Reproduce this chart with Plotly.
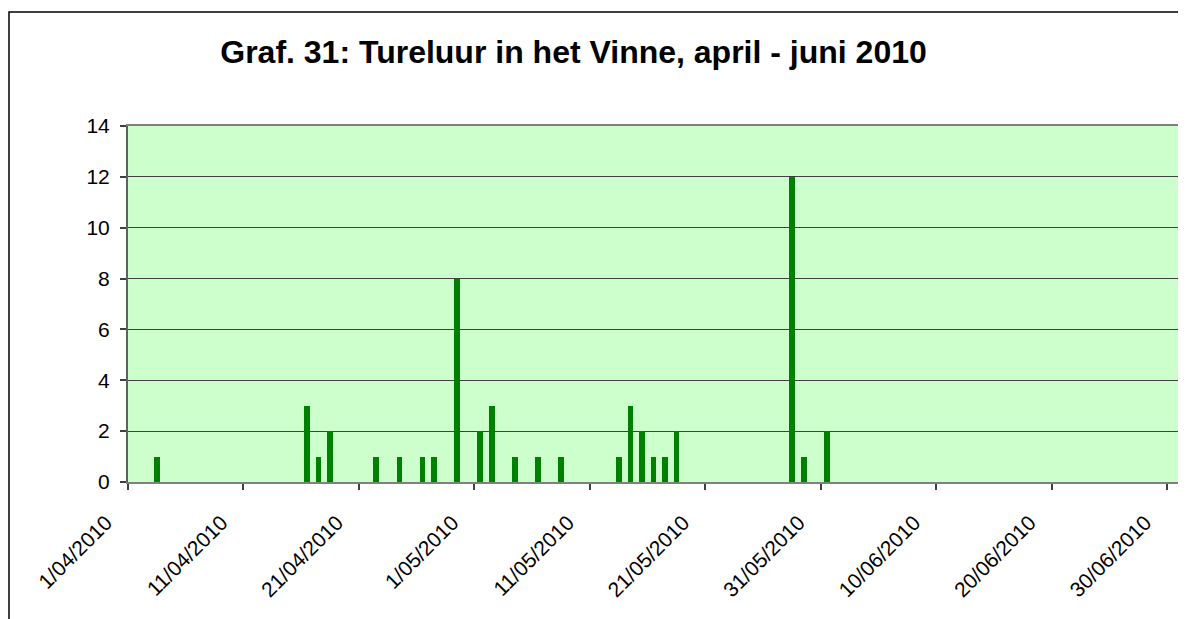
import plotly.graph_objects as go

dates = ["2010-04-03", "2010-04-16", "2010-04-17", "2010-04-18", "2010-04-22",
         "2010-04-24", "2010-04-26", "2010-04-27", "2010-04-29", "2010-05-01",
         "2010-05-02", "2010-05-04", "2010-05-06", "2010-05-08", "2010-05-13",
         "2010-05-14", "2010-05-15", "2010-05-16", "2010-05-17", "2010-05-18",
         "2010-05-28", "2010-05-29", "2010-05-31"]
counts = [1, 3, 1, 2, 1, 1, 1, 1, 8, 2, 3, 1, 1, 1, 1, 3, 2, 1, 1, 2, 12, 1, 2]

title_text = "Graf. 31: Tureluur in het Vinne, april - juni 2010"
y_ticks = [0, 2, 4, 6, 8, 10, 12, 14]

DAY = 86400000

fig = go.Figure()
fig.add_trace(go.Bar(
    x=dates, y=counts,
    xperiod=DAY, xperiodalignment="middle",
    width=0.5 * DAY,
    marker=dict(color="#008000", line=dict(width=0)),
    showlegend=False,
))

W, H = 1178, 611
L, R, T, B = 120, 7, 118, 137
pw = W - L - R
ph = H - T - B

fig.update_layout(
    width=W, height=H,
    margin=dict(l=L, r=R, t=T, b=B, autoexpand=False),
    paper_bgcolor="white",
    plot_bgcolor="#CCFFCC",
    font=dict(family="Liberation Sans, Arial, sans-serif", color="black"),
    title=dict(text="<b>" + title_text + "</b>",
               font=dict(size=32, family="Liberation Sans, Arial, sans-serif", color="black"),
               x=565.5 / W, xref="container", xanchor="center",
               y=1 - 44 / H, yref="container", yanchor="middle"),
    bargap=0,
)

fig.update_xaxes(
    type="date",
    range=["2010-04-01", "2010-07-01"],
    tick0="2010-04-01", dtick=10 * DAY,
    tickformat="%-d/%m/%Y",
    tickangle=-45,
    tickfont=dict(size=21),
    ticklabelstandoff=12, ticklabelshift=-22,
    ticks="outside", ticklen=6, tickcolor="#404040", tickwidth=1.5,
    showgrid=False,
    showline=True, linecolor="#808080", linewidth=2, mirror=True,
    zeroline=False,
)
fig.update_yaxes(
    range=[0, 14],
    tickvals=y_ticks,
    tickfont=dict(size=21),
    ticklabelstandoff=6,
    ticks="outside", ticklen=6, tickcolor="#404040", tickwidth=1.5,
    showgrid=True, gridcolor="#404040", gridwidth=1,
    showline=True, linecolor="#606060", linewidth=2, mirror=True,
    zeroline=False,
)

# outer chart border
fig.add_shape(type="rect", xref="paper", yref="paper",
              x0=(1 - L) / pw, x1=1.2, y0=-0.6, y1=(ph + T - 4) / ph,
              line=dict(color="black", width=1.5), fillcolor="rgba(0,0,0,0)",
              layer="below")

fig.write_html("out.html")
